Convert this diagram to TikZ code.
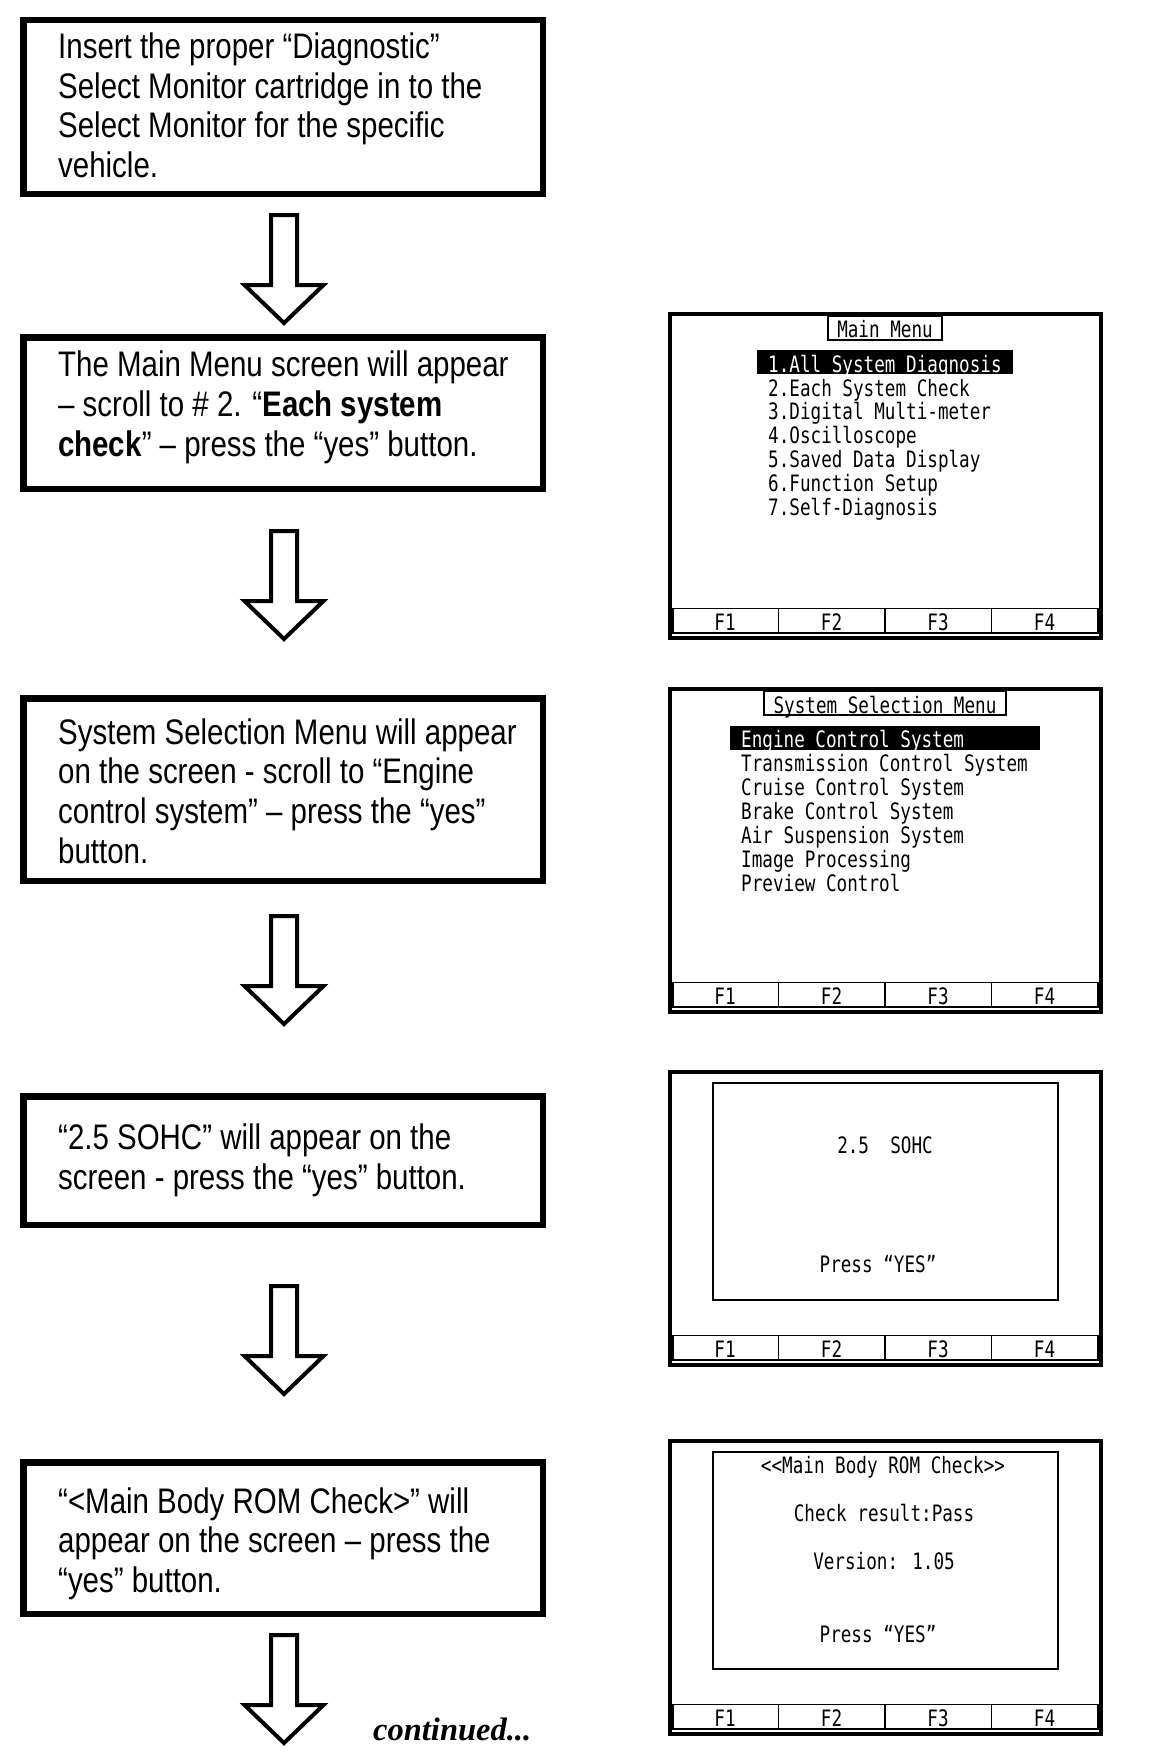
\documentclass[tikz,border=0pt]{standalone}
\usepackage{fontspec}
\setmainfont{Liberation Sans}[FakeStretch=0.83]
\newfontfamily\scrfont{DejaVu Sans Mono}[FakeStretch=0.78]
\newfontfamily\contfont{Liberation Serif}
\usetikzlibrary{calc}
\tikzset{
  stepbox/.style={draw, line width=6.5pt, inner sep=0pt, minimum width=519.5pt},
  steptext/.style={anchor=base west, align=left, inner sep=0pt, font=\fontsize{35.5}{39.6}\selectfont},
  blockarrow/.style={draw, line width=4pt, line join=miter, fill=white},
  screenframe/.style={draw, line width=4pt, inner sep=0pt, minimum width=431pt},
  thinline/.style={line width=1.8pt},
  scrtext/.style={inner sep=0pt, font=\scrfont\fontsize{22.6}{24}\selectfont},
  downarrow/.pic={\draw[blockarrow] (-13,0) -- (13,0) -- (13,70) -- (39.5,70) -- (0,108) -- (-39.5,70) -- (-13,70) -- cycle;}
}
\newcommand\frow[2]{%
  \draw[thinline] (673,#2-31.5) rectangle (1098,#2-7);
  \foreach \xx in {778.5,885,991.5} \draw[thinline] (\xx,#2-31.5) -- (\xx,#2-7);
  \foreach \ii/\xx in {1/725,2/831.5,3/938,4/1044.5}
    \node[scrtext, anchor=base] (#1f\ii) at (\xx,#2-10) {F\ii};
}
\begin{document}
\begin{tikzpicture}[x=1pt,y=-1pt]
\useasboundingbox[fill=white] (0,0) rectangle (1152,1758);

% ---- step boxes (text anchored at baseline of its last line) ----
\node[stepbox, minimum height=173.5] (b1) at (283,107) {};
\node[steptext] (t1) at (58,177.5) {Insert the proper “Diagnostic”\\Select Monitor cartridge in to the\\Select Monitor for the specific\\vehicle.};

\node[stepbox, minimum height=151.5] (b2) at (283,413) {};
\node[steptext] (t2) at (58,456) {The Main Menu screen will appear\\– scroll to \# 2. “\textbf{Each system}\\\textbf{check}” – press the “yes” button.};

\node[stepbox, minimum height=182.5] (b3) at (283,789.5) {};
\node[steptext] (t3) at (58,863) {System Selection Menu will appear\\on the screen - scroll to “Engine\\control system” – press the “yes”\\button.};

\node[stepbox, minimum height=128.5] (b4) at (283,1160.5) {};
\node[steptext] (t4) at (58,1189) {“2.5 SOHC” will appear on the\\screen - press the “yes” button.};

\node[stepbox, minimum height=151.5] (b5) at (283,1538) {};
\node[steptext] (t5) at (58,1592.5) {“<Main Body ROM Check>” will\\appear on the screen – press the\\“yes” button.};

% ---- block arrows ----
\coordinate (a1) at (284,215);
\coordinate (a2) at (284,531);
\coordinate (a3) at (284,916);
\coordinate (a4) at (284,1286);
\coordinate (a5) at (284,1635);
\foreach \aa in {a1,a2,a3,a4,a5} \pic at (\aa) {downarrow};

\node[anchor=base west, inner sep=0pt, font=\contfont\bfseries\itshape\fontsize{32.5}{34}\selectfont] (cont) at (373,1740) {continued...};

% ---- screen 1 : Main Menu ----
\node[screenframe, minimum height=324] (s1) at (885.5,476) {};
\node[draw, thinline, inner sep=0pt, minimum width=114, minimum height=24] (s1tbox) at (885,328) {};
\node[scrtext, anchor=base] (s1title) at (885,337) {Main Menu};
\fill (757,350) rectangle (1013,374);
\node[scrtext, anchor=base west, text=white] (s1i1) at (768,372) {1.All System Diagnosis};
\node[scrtext, anchor=base west] (s1i2) at (768,396) {2.Each System Check};
\node[scrtext, anchor=base west] (s1i3) at (768,419.5) {3.Digital Multi-meter};
\node[scrtext, anchor=base west] (s1i4) at (768,443.5) {4.Oscilloscope};
\node[scrtext, anchor=base west] (s1i5) at (768,467.5) {5.Saved Data Display};
\node[scrtext, anchor=base west] (s1i6) at (768,491.5) {6.Function Setup};
\node[scrtext, anchor=base west] (s1i7) at (768,515.5) {7.Self-Diagnosis};
\frow{s1}{640}

% ---- screen 2 : System Selection Menu ----
\node[screenframe, minimum height=323] (s2) at (885.5,850.5) {};
\node[draw, thinline, inner sep=0pt, minimum width=242, minimum height=24] (s2tbox) at (885,703) {};
\node[scrtext, anchor=base] (s2title) at (885,713) {System Selection Menu};
\fill (730,726) rectangle (1040,750);
\node[scrtext, anchor=base west, text=white] (s2i1) at (741,747) {Engine Control System};
\node[scrtext, anchor=base west] (s2i2) at (741,771) {Transmission Control System};
\node[scrtext, anchor=base west] (s2i3) at (741,795) {Cruise Control System};
\node[scrtext, anchor=base west] (s2i4) at (741,819) {Brake Control System};
\node[scrtext, anchor=base west] (s2i5) at (741,843) {Air Suspension System};
\node[scrtext, anchor=base west] (s2i6) at (741,867) {Image Processing};
\node[scrtext, anchor=base west] (s2i7) at (741,891) {Preview Control};
\frow{s2}{1014}

% ---- screen 3 : 2.5 SOHC ----
\node[screenframe, minimum height=293] (s3) at (885.5,1218.5) {};
\node[draw, line width=2pt, inner sep=0pt, minimum width=345, minimum height=217] (s3in) at (885,1191) {};
\node[scrtext, anchor=base] (s3a) at (885,1153) {2.5\ \ SOHC};
\node[scrtext, anchor=base] (s3b) at (878,1272) {Press “YES”};
\frow{s3}{1367}

% ---- screen 4 : Main Body ROM Check ----
\node[screenframe, minimum height=293] (s4) at (885.5,1587.5) {};
\node[draw, line width=2pt, inner sep=0pt, minimum width=345, minimum height=217] (s4in) at (885,1560.5) {};
\node[scrtext, anchor=base] (s4a) at (883,1473) {<<Main Body ROM Check>>};
\node[scrtext, anchor=base] (s4b) at (884,1521) {Check result:Pass};
\node[scrtext, anchor=base] (s4c) at (884,1569) {Version: 1.05};
\node[scrtext, anchor=base] (s4d) at (878,1642) {Press “YES”};
\frow{s4}{1736}
\end{tikzpicture}
\end{document}
